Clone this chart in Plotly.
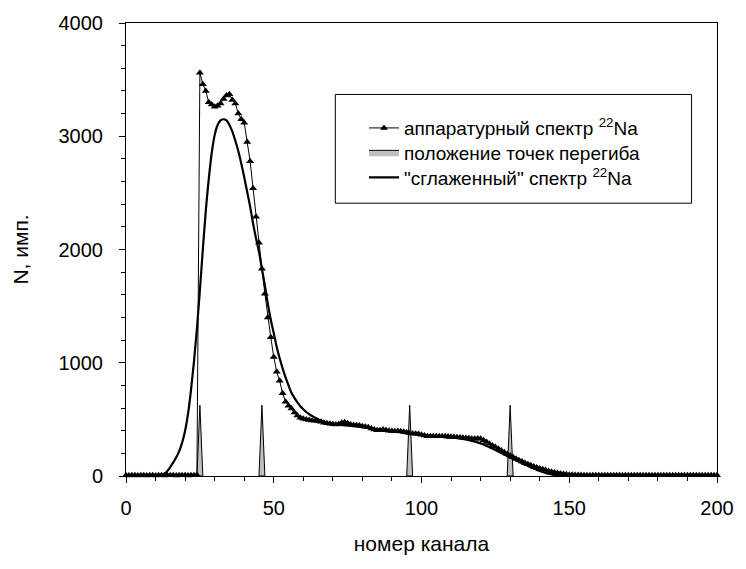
import plotly.graph_objects as go

# channel numbers
channels = list(range(0, 201))

# apparatus (measured) spectrum of 22Na, counts per channel
measured = (
    [6, 5, 7, 6, 5, 6, 7, 5, 6, 6, 5, 7, 6, 5, 6, 7, 6, 5, 6, 7, 6, 5, 6, 7, 8]          # 0-24
    + [3560, 3460, 3400, 3300, 3280, 3260, 3270, 3290, 3330, 3360,                       # 25-34
       3370, 3320, 3290, 3200, 3150, 3120, 2950, 2780, 2540, 2290,                       # 35-44
       2060, 1830, 1610, 1400, 1225, 1050, 920, 840, 730, 655,                           # 45-54
       620, 595, 560, 535, 515, 505, 500, 495, 490, 488,                                 # 55-64
       485, 478, 470, 465, 462, 458, 455, 460, 470, 475,                                 # 65-74
       465, 455, 450, 448, 445, 440, 435, 430, 420, 410,                                 # 75-84
       405, 405, 410, 405, 400, 398, 395, 398, 395, 390,                                 # 85-94
       385, 378, 375, 372, 370, 365, 358, 352, 350, 352,                                 # 95-104
       350, 352, 350, 350, 348, 346, 345, 342, 340, 338,                                 # 105-114
       336, 333, 330, 328, 332, 330, 315, 300, 285, 270,                                 # 115-124
       255, 240, 225, 210, 195, 180, 165, 152, 140, 127,                                 # 125-134
       115, 104, 94, 84, 75, 67, 60, 52, 45, 38,                                         # 135-144
       32, 27, 22, 18, 15, 12, 10, 9, 8, 8]                                              # 145-154
    + [7, 6, 7, 6, 6, 7, 6, 6, 7, 6, 6, 7, 6, 6, 7, 6, 6, 7, 6, 6, 7, 6, 6, 7, 6,
       6, 7, 6, 6, 7, 6, 6, 7, 6, 6, 7, 6, 6, 7, 6, 6, 7, 6, 6, 7, 6]                    # 155-200
)

# "smoothed" spectrum of 22Na
smoothed = (
    [0] * 12                                                                            # 0-11
    + [4, 20, 45, 80, 120, 165, 220, 295, 400, 550, 760, 1010, 1300,                     # 12-24
       1640, 2000, 2340, 2620, 2850, 3010, 3100, 3140, 3150, 3140,                       # 25-34
       3100, 3040, 2960, 2870, 2760, 2640, 2510, 2380, 2230, 2100,                       # 35-44
       1980, 1830, 1680, 1520, 1380, 1260, 1140, 1040, 950, 870,                         # 45-54
       800, 735, 690, 650, 615, 590, 565, 545, 530, 515,                                 # 55-64
       500, 490, 480, 472, 466, 460, 455, 452, 450, 447,                                 # 65-74
       445, 442, 440, 437, 434, 431, 428, 424, 420, 416,                                 # 75-84
       412, 408, 404, 400, 397, 394, 391, 388, 385, 382,                                 # 85-94
       379, 376, 373, 370, 367, 364, 361, 358, 355, 352,                                 # 95-104
       350, 347, 345, 342, 339, 342, 339, 336, 332, 327,                                 # 105-114
       322, 316, 310, 304, 297, 288, 278, 266, 254, 242,                                 # 115-124
       229, 216, 203, 190, 177, 164, 151, 138, 125, 112,                                 # 125-134
       100, 88, 76, 65, 54, 44, 35, 27, 20, 14,                                          # 135-144
       9, 6, 3, 2, 1]                                                                    # 145-149
    + [0] * 51                                                                          # 150-200
)

# inflection point positions (channels) and marker height
inflection_channels = [25, 46, 96, 130]
inflection_height = 625
inflection_halfwidth = 1.0

x_ticks = [0, 50, 100, 150, 200]
y_ticks = [0, 1000, 2000, 3000, 4000]

legend_names = [
    "аппаратурный спектр <sup>22</sup>Na",
    "положение точек перегиба",
    "\"сглаженный\" спектр <sup>22</sup>Na",
]

FONT = "Liberation Sans, Arial, sans-serif"

# build spike polygons from the inflection list
spike_x, spike_y = [], []
for c in inflection_channels:
    spike_x += [c - inflection_halfwidth, c, c + inflection_halfwidth, c - inflection_halfwidth, None]
    spike_y += [0, inflection_height, 0, 0, None]

fig = go.Figure()

fig.add_trace(go.Scatter(
    x=spike_x, y=spike_y, mode="lines", fill="toself",
    fillcolor="#c0c0c0", line=dict(color="black", width=1),
    name=legend_names[1], legend="legend2",
))

fig.add_trace(go.Scatter(
    x=channels, y=measured, mode="lines+markers",
    line=dict(color="black", width=1),
    marker=dict(symbol="triangle-up", size=7, color="black"),
    name=legend_names[0], legend="legend", cliponaxis=False,
))

fig.add_trace(go.Scatter(
    x=channels, y=smoothed, mode="lines", line_shape="spline",
    line=dict(color="black", width=2.2),
    name=legend_names[2], legend="legend3",
))

W, H = 746, 569
L, R, T, B = 125.5, 722.7, 21.7, 475.7
pw, ph = R - L, B - T

def px2paper_x(px):
    return (px - L) / pw

def px2paper_y(py):
    return 1 - (py - T) / ph

fig.add_shape(type="rect", xref="paper", yref="paper",
              x0=px2paper_x(337), x1=px2paper_x(697),
              y0=px2paper_y(202.3), y1=px2paper_y(93.3),
              line=dict(color="black", width=1), fillcolor="white", layer="above")

def leg(row_y):
    return dict(
        x=px2paper_x(366), y=px2paper_y(row_y), xanchor="left", yanchor="middle",
        bgcolor="rgba(0,0,0,0)", borderwidth=0,
        font=dict(family=FONT, size=19, color="black"),
        itemwidth=30,
    )

fig.update_layout(
    width=W, height=H,
    margin=dict(l=L, r=W - R, t=T, b=H - B),
    paper_bgcolor="white", plot_bgcolor="white",
    font=dict(family=FONT, color="black"),
    showlegend=True,
    legend=leg(127),
    legend2=leg(151.5),
    legend3=leg(176.5),
    xaxis=dict(
        range=[0, 200], tickvals=x_ticks, ticks="outside", ticklen=6, tickwidth=1,
        tickcolor="black", showline=True, linecolor="black", linewidth=1, mirror=True,
        showgrid=False, zeroline=False,
        tickfont=dict(family=FONT, size=20, color="black"), ticklabelstandoff=8,
        minor=dict(dtick=10, ticks="outside", ticklen=4, tickcolor="black", showgrid=False),
        title=dict(text="номер канала", font=dict(family=FONT, size=21, color="black"), standoff=18),
    ),
    yaxis=dict(
        range=[0, 4000], tickvals=y_ticks, ticks="outside", ticklen=6, tickwidth=1,
        tickcolor="black", showline=True, linecolor="black", linewidth=1, mirror=True,
        showgrid=False, zeroline=False,
        tickfont=dict(family=FONT, size=20, color="black"), ticklabelstandoff=12,
        minor=dict(dtick=200, ticks="outside", ticklen=4, tickcolor="black", showgrid=False),
        title=dict(text="N, имп.", font=dict(family=FONT, size=21, color="black"), standoff=24),
    ),
)

fig.write_html("out.html")
